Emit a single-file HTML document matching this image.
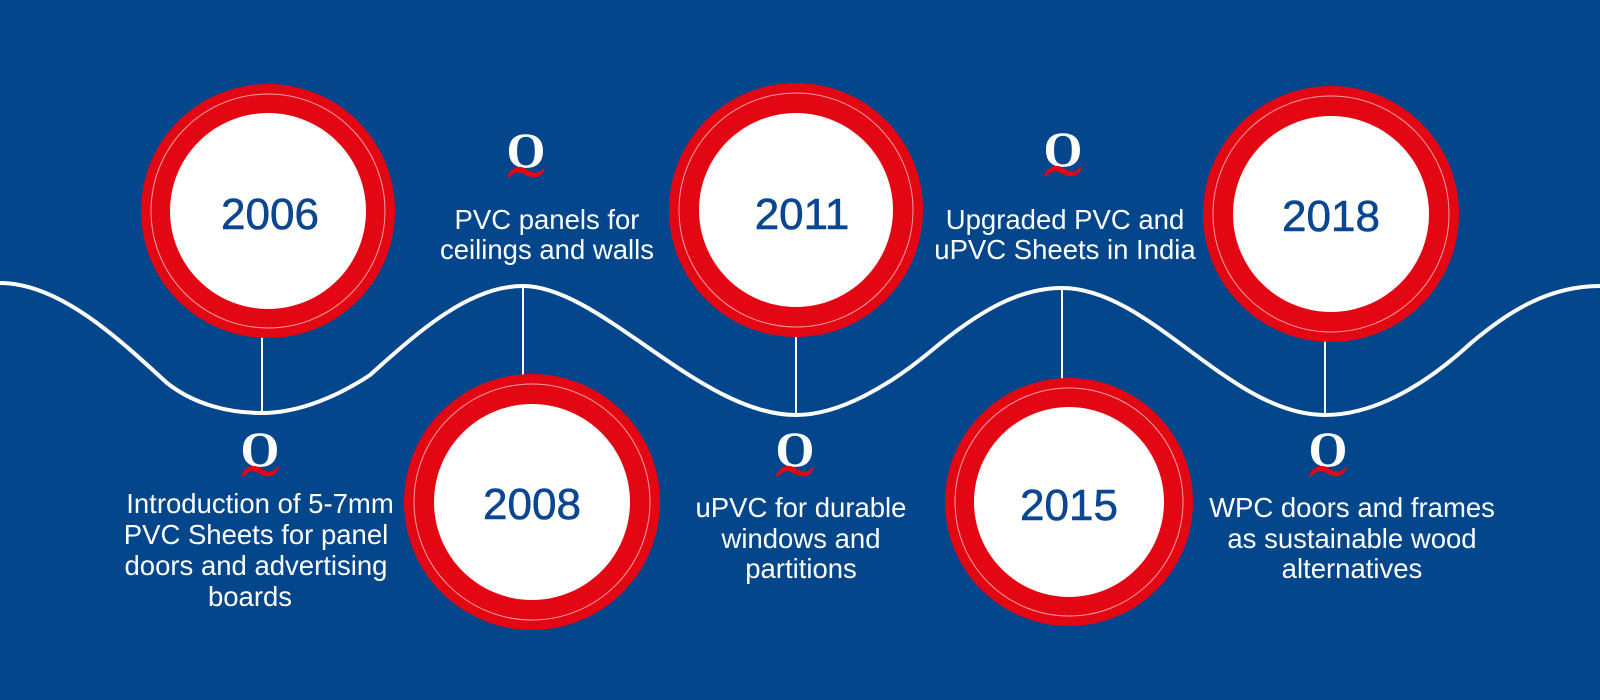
<!DOCTYPE html>
<html><head><meta charset="utf-8"><style>
html,body{margin:0;padding:0;background:#03468c;}
svg{display:block}
</style></head><body>
<svg width="1600" height="700" viewBox="0 0 1600 700" xmlns="http://www.w3.org/2000/svg">
<rect width="1600" height="700" fill="#03468c"/>
<defs>
<g id="q">
<text x="0" y="0" text-anchor="middle" font-family="Liberation Serif, serif" font-weight="bold" font-size="50" fill="#fff">O</text>
<path d="M-19,9 C-12,-3 -4,-1 2,3 C8,7 14,7 19,-1 L18,4 C12,14 4,10 -2,7 C-8,4 -12,5 -17,11 Z" fill="#e30613"/>
</g>
</defs>
<!-- wave -->
<path d="M0,283 C60,283 120,340 167,383 C195,405 230,413 262,413 C300,413 340,395 370,375 C420,330 470,286 523,286 C600,286 700,415 796,415 C840,415 890,385 931,351 C980,310 1020,288 1062,288 C1150,288 1230,415 1325,415 C1370,415 1420,390 1471,343 C1510,310 1550,286 1600,286" fill="none" stroke="#fff" stroke-width="4"/>
<!-- connectors -->
<g stroke="#fff" stroke-width="2">
<line x1="262" y1="335" x2="262" y2="413"/>
<line x1="523" y1="286" x2="523" y2="375"/>
<line x1="796" y1="335" x2="796" y2="415"/>
<line x1="1062" y1="288" x2="1062" y2="380"/>
<line x1="1325" y1="340" x2="1325" y2="415"/>
</g>
<!-- circles -->
<g>
<circle cx="268" cy="211" r="127" fill="#e30613"/><circle cx="268" cy="211" r="117" fill="none" stroke="#f4a0a6" stroke-width="1"/><circle cx="268" cy="211" r="98" fill="#fff"/>
<circle cx="532" cy="502" r="128" fill="#e30613"/><circle cx="532" cy="502" r="118" fill="none" stroke="#f4a0a6" stroke-width="1"/><circle cx="532" cy="502" r="98" fill="#fff"/>
<circle cx="796" cy="210" r="127" fill="#e30613"/><circle cx="796" cy="210" r="117" fill="none" stroke="#f4a0a6" stroke-width="1"/><circle cx="796" cy="210" r="97" fill="#fff"/>
<circle cx="1069" cy="502" r="124" fill="#e30613"/><circle cx="1069" cy="502" r="114" fill="none" stroke="#f4a0a6" stroke-width="1"/><circle cx="1069" cy="502" r="95" fill="#fff"/>
<circle cx="1331" cy="214" r="128" fill="#e30613"/><circle cx="1331" cy="214" r="118" fill="none" stroke="#f4a0a6" stroke-width="1"/><circle cx="1331" cy="214" r="98" fill="#fff"/>
</g>
<g font-family="Liberation Sans, sans-serif" font-size="44" fill="#0b4690" text-anchor="middle" stroke="#0b4690" stroke-width="0.6">
<text x="270" y="229">2006</text>
<text x="532" y="519">2008</text>
<text x="802" y="229">2011</text>
<text x="1069" y="520">2015</text>
<text x="1331" y="231">2018</text>
</g>
<!-- Q logos -->
<use href="#q" x="526" y="167"/>
<use href="#q" x="1063" y="166"/>
<use href="#q" x="260" y="466"/>
<use href="#q" x="795" y="466"/>
<use href="#q" x="1328" y="466"/>
<!-- labels -->
<g font-family="Liberation Sans, sans-serif" font-size="27.5" fill="#fff" text-anchor="middle">
<text x="547" y="229">PVC panels for</text>
<text x="547" y="259">ceilings and walls</text>
<text x="1065" y="229">Upgraded PVC and</text>
<text x="1065" y="259">uPVC Sheets in India</text>
<text x="260" y="513">Introduction of  5-7mm</text>
<text x="256" y="544">PVC Sheets for panel</text>
<text x="256" y="575">doors and advertising</text>
<text x="250" y="606">boards</text>
<text x="801" y="517">uPVC for durable</text>
<text x="801" y="548">windows and</text>
<text x="801" y="578">partitions</text>
<text x="1352" y="517">WPC doors and frames</text>
<text x="1352" y="548">as sustainable wood</text>
<text x="1352" y="578">alternatives</text>
</g>
</svg>
</body></html>
